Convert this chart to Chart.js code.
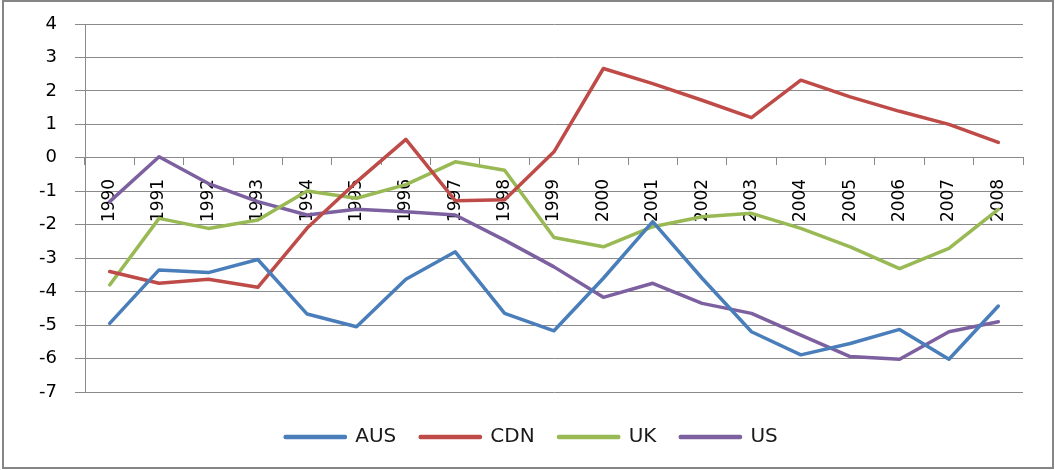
<!DOCTYPE html>
<html>
<head>
<meta charset="utf-8">
<script src="https://cdn.jsdelivr.net/npm/chart.js@4/dist/chart.umd.min.js"></script>
<style>
  html, body { margin: 0; padding: 0; background: #fff; }
  #wrap { width: 1055px; height: 470px; position: relative; }
</style>
</head>
<body>
<div id="wrap"><canvas id="c" width="1055" height="470"></canvas></div>
<script>
const years = ['1990','1991','1992','1993','1994','1995','1996','1997','1998','1999','2000','2001','2002','2003','2004','2005','2006','2007','2008'];
const aus = [-4.95, -3.35, -3.43, -3.04, -4.67, -5.05, -3.63, -2.81, -4.65, -5.17, -3.6, -1.91, -3.6, -5.2, -5.89, -5.55, -5.13, -6.02, -4.43];
const cdn = [-3.4, -3.75, -3.63, -3.87, -2.1, -0.72, 0.55, -1.28, -1.25, 0.18, 2.67, 2.22, 1.72, 1.2, 2.32, 1.82, 1.39, 1.0, 0.46];
const uk  = [-3.8, -1.81, -2.11, -1.86, -0.99, -1.21, -0.8, -0.12, -0.37, -2.38, -2.66, -2.06, -1.76, -1.66, -2.11, -2.66, -3.31, -2.71, -1.54];
const us  = [-1.31, 0.03, -0.77, -1.31, -1.71, -1.54, -1.61, -1.71, -2.46, -3.26, -4.17, -3.75, -4.35, -4.65, -5.3, -5.94, -6.02, -5.2, -4.9];
const seriesNames = ['AUS', 'CDN', 'UK', 'US'];
const yTicks = [4, 3, 2, 1, 0, -1, -2, -3, -4, -5, -6, -7];

const colors = ['#4a7ebb', '#be4b48', '#98b954', '#7d60a0'];
const values = [aus, cdn, uk, us];
const GRID = '#8a8a8a';
const FONT = 'DejaVu Sans';
const LEGEND_SHIFT = 20;

const frame = {
  id: 'frame',
  afterLayout(chart) {
    const lg = chart.legend;
    if (lg) { lg.left += LEGEND_SHIFT; lg.right += LEGEND_SHIFT; }
  },
  afterDraw(chart) {
    const ctx = chart.ctx;
    ctx.save();
    ctx.strokeStyle = '#858585';
    ctx.lineWidth = 2;
    ctx.strokeRect(3, 1, 1050, 467);
    ctx.restore();
  }
};

new Chart(document.getElementById('c'), {
  type: 'line',
  data: {
    labels: years,
    datasets: seriesNames.map((n, i) => ({
      label: n,
      data: values[i],
      borderColor: colors[i],
      backgroundColor: colors[i],
      borderWidth: 3.5,
      pointRadius: 0,
      tension: 0,
      fill: false,
      borderJoinStyle: 'round',
      borderCapStyle: 'round'
    }))
  },
  options: {
    responsive: false,
    animation: false,
    layout: { padding: { left: 0, top: 24, right: 32, bottom: 13 } },
    plugins: {
      legend: {
        position: 'bottom',
        labels: {
          boxWidth: 60,
          boxHeight: 1,
          padding: 24,
          color: '#1a1a1a',
          font: { family: FONT, size: 20 }
        }
      },
      tooltip: { enabled: false }
    },
    scales: {
      x: {
        position: { y: 0 },
        offset: true,
        grid: {
          offset: true,
          drawOnChartArea: false,
          drawTicks: true,
          tickLength: 7,
          color: GRID
        },
        border: { display: true, color: GRID },
        ticks: {
          autoSkip: false,
          maxRotation: 90,
          minRotation: 90,
          padding: 14,
          color: '#000',
          font: { family: FONT, size: 17 }
        }
      },
      gap: {
        type: 'linear',
        position: 'bottom',
        display: true,
        ticks: { display: false },
        grid: { display: false, drawTicks: false },
        border: { display: false },
        afterFit(s) { s.height = 11; }
      },
      y: {
        min: -7,
        max: 4,
        afterBuildTicks(s) { s.ticks = yTicks.map(v => ({ value: v })); },
        afterFit(s) { s.width = 85; s.paddingTop = 0; s.paddingBottom = 0; },
        grid: { color: GRID, tickLength: 10, drawTicks: true },
        border: { display: true, color: GRID },
        ticks: {
          padding: 18,
          color: '#000',
          font: { family: FONT, size: 18 }
        }
      }
    }
  },
  plugins: [frame]
});
</script>
</body>
</html>
